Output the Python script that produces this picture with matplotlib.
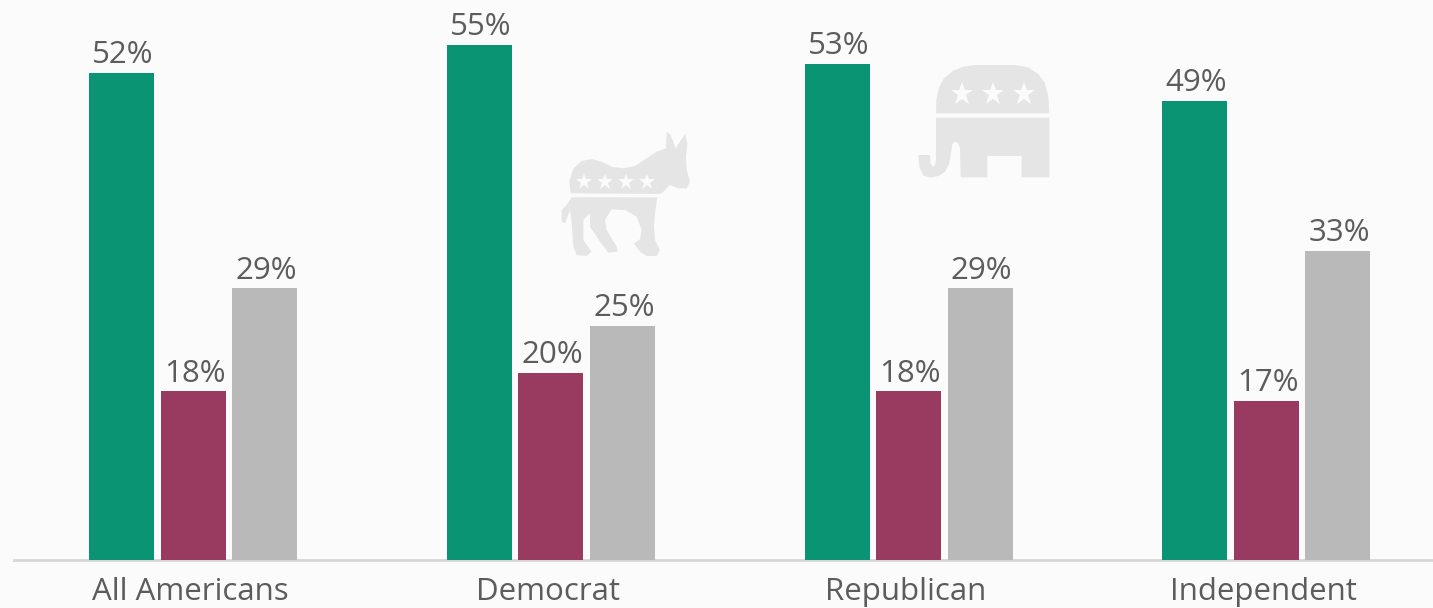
import numpy as np
from matplotlib import pyplot as plt
from matplotlib.patches import Polygon

W, H = 1433, 608

groups = ['All Americans', 'Democrat', 'Republican', 'Independent']
green_vals = [52, 55, 53, 49]
maroon_vals = [18, 20, 18, 17]
grey_vals = [29, 25, 29, 33]

GREEN = '#0b9474'
MAROON = '#993a60'
GREY = '#b9b9b9'
BG = '#fbfbfb'
ICON = '#e5e5e5'
TEXT = '#5c5c5c'

plt.rcParams['font.family'] = ['Open Sans', 'DejaVu Sans']

fig = plt.figure(figsize=(W/100, H/100), dpi=100, facecolor=BG)

# axes run from the baseline up to the top edge, about 358 px per group
px_group = 357.7
x0 = 193.2
ax = fig.add_axes([14/W, (H-560)/H, (W-14)/W, 560/H], facecolor='none')
ax.set_xlim((14-x0)/px_group, (W-x0)/px_group)
ax.set_ylim(0, 560/9.365)

x = np.arange(len(groups))
width = 65/px_group
step = 71.5/px_group

for offset, vals, color in [(-step, green_vals, GREEN),
                            (0, maroon_vals, MAROON),
                            (step, grey_vals, GREY)]:
    bars = ax.bar(x+offset, vals, width, color=color, zorder=3)
    for bar, v in zip(bars, vals):
        ax.annotate('%d%%' % v, (bar.get_x()+bar.get_width()/2, v),
                    xytext=(1, 7), textcoords='offset points',
                    ha='center', va='baseline', fontsize=22.5, color=TEXT)

for s in ['top', 'left', 'right']:
    ax.spines[s].set_visible(False)
ax.spines['bottom'].set_color('#d6d6d6')
ax.spines['bottom'].set_linewidth(2)
ax.set_yticks([])
# category labels sit a little left of the middle bar
ax.set_xticks(x - 3/px_group)
ax.set_xticklabels(groups, fontsize=22.5, color=TEXT)
ax.tick_params(axis='x', length=0, pad=12)


# party icons, outlines traced in pixels from the top left corner
def px_shape(points, ox, oy):
    pts = [((ox+a/3.)/W, 1-(oy+b/3.)/H) for a, b in points]
    fig.add_artist(Polygon(pts, closed=True, facecolor=ICON, edgecolor='none',
                           transform=fig.transFigure))

def px_stars(points, ox, oy, size):
    for a, b in points:
        fig.add_artist(plt.Line2D([(ox+a/3.)/W], [1-(oy+b/3.)/H], marker='*',
                                  markersize=size, color=BG, markeredgewidth=0,
                                  transform=fig.transFigure))

donkey_top = [(92, 430), (88, 395), (100, 355), (125, 333), (155, 327), (185, 335),
              (215, 350), (250, 355), (285, 348), (320, 325), (350, 305), (378, 295),
              (380, 245), (392, 255), (407, 295), (420, 275), (435, 252), (442, 280),
              (438, 320), (440, 360), (450, 395), (440, 415), (415, 415), (390, 405),
              (365, 430), (357, 432)]
donkey_bottom = [(95, 442), (352, 442), (345, 490), (342, 530), (345, 570), (360, 600),
                 (350, 618), (320, 618), (300, 605), (282, 580), (300, 568), (305, 540),
                 (290, 500), (255, 480), (215, 478), (195, 510), (200, 540), (230, 590),
                 (232, 605), (205, 608), (180, 575), (150, 530), (150, 490), (130, 510),
                 (130, 570), (155, 605), (140, 618), (110, 615), (100, 590), (95, 520),
                 (90, 480), (75, 520), (65, 515), (65, 480), (80, 465)]
donkey_stars = [(132, 395), (196, 395), (258, 395), (320, 395)]

elephant_top = [(108, 190), (109, 150), (116, 115), (132, 85), (160, 62), (190, 50),
                (225, 45), (345, 45), (385, 52), (415, 72), (435, 100), (445, 140),
                (448, 190)]
elephant_bottom = [(108, 203), (448, 203), (448, 382), (365, 382), (365, 318), (262, 318),
                   (262, 382), (182, 382), (180, 295), (175, 280), (165, 275), (157, 282),
                   (153, 310), (148, 340), (135, 365), (115, 378), (90, 383), (70, 376),
                   (58, 350), (55, 315), (90, 315), (92, 340), (98, 350), (105, 345),
                   (108, 330)]
elephant_stars = [(187, 133), (280, 133), (372, 133)]

px_shape(donkey_top, 540, 50)
px_shape(donkey_bottom, 540, 50)
px_stars(donkey_stars, 540, 50, 12)
px_shape(elephant_top, 900, 50)
px_shape(elephant_bottom, 900, 50)
px_stars(elephant_stars, 900, 50, 17)

fig.savefig('out.png', dpi=100, facecolor=BG)
